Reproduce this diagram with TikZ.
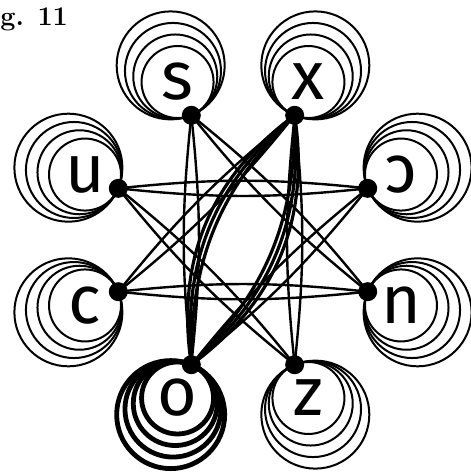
\documentclass[tikz,border=0pt]{standalone}
\usepackage{fontspec}
\usepackage{graphicx}
\usetikzlibrary{calc}
\newfontfamily\letterfont{Fira Sans}

\begin{document}
\begin{tikzpicture}[x=0.5pt,y=0.5pt]
\tikzstyle{ring}=[line width=1pt]
\tikzstyle{heavyring}=[line width=2.4pt]
\tikzstyle{link}=[line width=1.2pt]
\tikzstyle{heavylink}=[line width=1.6pt]
\tikzstyle{hub}=[fill=black]
\tikzstyle{letter}=[inner sep=0pt,font=\letterfont\fontsize{34}{34}\selectfont]
\useasboundingbox (-243,-233) rectangle (228,240);
\node[anchor=base west,inner sep=0pt,font=\bfseries\fontsize{13.5}{14}\selectfont] (title) at (-243,215) {g. 11};
% the eight hubs on the octagon
\coordinate (rc) at (22.5:135);
\coordinate (x) at (67.5:135);
\coordinate (s) at (112.5:135);
\coordinate (u) at (157.5:135);
\coordinate (c) at (202.5:135);
\coordinate (o) at (247.5:135);
\coordinate (z) at (292.5:135);
\coordinate (n) at (337.5:135);
% self loops
\foreach \n/\a in {rc/22.5,x/67.5,s/112.5,u/157.5,c/202.5,z/292.5,n/337.5}
  \foreach \r in {36,42,48,54}
    \draw[ring] ($(\n)+(\a:\r)$) circle (\r);
\foreach \r in {36,42,48,54}
  \draw[heavyring] ($(o)+(247.5:\r)$) circle (\r);
% star of links
\foreach \side in {left,right} {
  \draw[link] (rc) to[bend \side=6] (u);
  \draw[link] (x) to[bend \side=6] (c);
  \draw[link] (s) to[bend \side=6] (o);
  \draw[link] (u) to[bend \side=6] (z);
  \draw[link] (c) to[bend \side=6] (n);
  \draw[link] (o) to[bend \side=6] (rc);
  \draw[link] (z) to[bend \side=6] (x);
  \draw[link] (n) to[bend \side=6] (s);
}
\foreach \b in {23,27,31} {
  \draw[heavylink] (o) to[bend left=\b] (x);
  \draw[heavylink] (o) to[bend right=\b] (x);
}
\foreach \n in {rc,x,s,u,c,o,z,n}
  \fill[hub] (\n) circle (9.5);
% letters
\node[letter] (lrc) at ($(rc)+(22.5:36)$) {\reflectbox{c}};
\node[letter] (lx) at ($(x)+(67.5:36)$) {x};
\node[letter] (ls) at ($(s)+(112.5:36)$) {s};
\node[letter] (lu) at ($(u)+(157.5:36)$) {u};
\node[letter] (lc) at ($(c)+(202.5:36)$) {c};
\node[letter] (lo) at ($(o)+(247.5:36)$) {o};
\node[letter] (lz) at ($(z)+(292.5:36)$) {z};
\node[letter] (ln) at ($(n)+(337.5:36)$) {n};
\end{tikzpicture}
\end{document}
